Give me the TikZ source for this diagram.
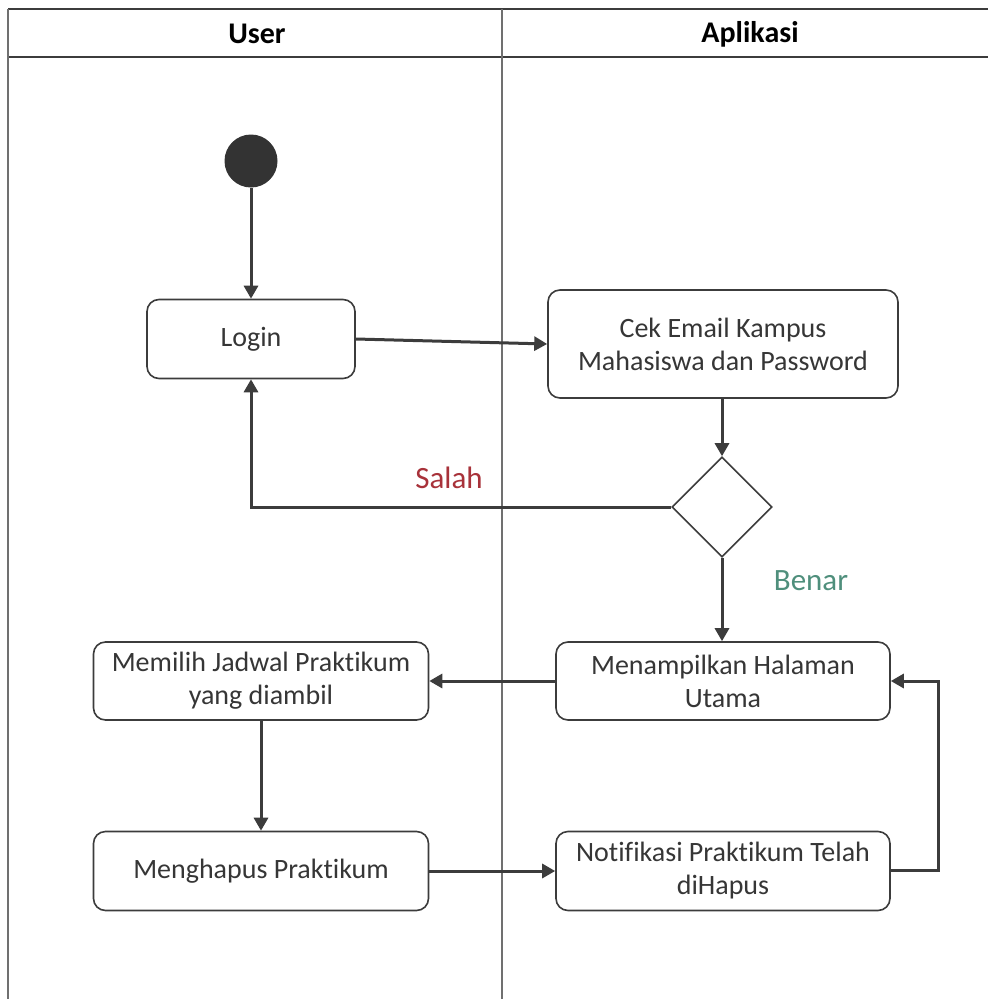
\documentclass[tikz,border=0pt]{standalone}
\usepackage{fontspec}
\setmainfont{Carlito}[Ligatures={NoCommon}]
\usetikzlibrary{shapes.geometric,arrows.meta}
\definecolor{ink}{HTML}{3C3C3C}
\definecolor{lane}{HTML}{707070}
\definecolor{salahred}{HTML}{A8323A}
\definecolor{benargreen}{HTML}{4F8F7C}
\tikzset{
  activity/.style={draw=ink, line width=1.6pt, rounded corners=12pt, fill=white,
    align=center, inner sep=0pt, font=\fontsize{28}{33}\selectfont, text=ink!90!black},
  flow/.style={draw=ink, line width=3pt, -{Triangle[length=13pt,width=14pt]}},
  laneline/.style={draw=lane, line width=2pt},
  headline/.style={draw=ink, line width=2pt},
  lanetitle/.style={font=\bfseries\fontsize{30}{34}\selectfont, text=black},
  guard/.style={font=\fontsize{31}{35}\selectfont}
}
\begin{document}
\begin{tikzpicture}[x=1pt,y=-1pt]
\useasboundingbox (0,0) rectangle (988,999);
\fill[white] (0,0) rectangle (988,999);

% swimlanes
\draw[headline] (8,9) -- (988,9);
\draw[headline] (8,57) -- (988,57);
\draw[laneline] (8,9) -- (8,999);
\draw[laneline] (502,9) -- (502,999);
\node[lanetitle] (laneuser) at (257,34) {User};
\node[lanetitle] (laneapp) at (750,34) {Aplikasi};

% nodes
\node[circle, fill=ink!85!black, minimum size=53pt, inner sep=0pt] (start) at (251,161) {};
\node[activity, minimum width=208pt, minimum height=79pt] (login) at (251,339) {Login};
\node[activity, minimum width=350pt, minimum height=108pt] (cek) at (723,344)
  {Cek Email Kampus\\Mahasiswa dan Password};
\node[diamond, draw=ink, line width=1.6pt, fill=white, minimum width=100pt,
  minimum height=100pt, inner sep=0pt, aspect=1] (dec) at (722,507) {};
\node[activity, minimum width=334pt, minimum height=78pt] (tampil) at (723,681)
  {Menampilkan Halaman\\Utama};
\node[activity, minimum width=335pt, minimum height=78pt] (pilih) at (261,681)
  {Memilih Jadwal Praktikum\\yang diambil};
\node[activity, minimum width=335pt, minimum height=79pt] (hapus) at (261,871)
  {Menghapus Praktikum};
\node[activity, minimum width=334pt, minimum height=79pt] (notif) at (723,871)
  {Notifikasi Praktikum Telah\\diHapus};

% guards
\node[guard, text=salahred] (salah) at (449,478) {Salah};
\node[guard, text=benargreen] (benar) at (811,581) {Benar};

% connectors
\draw[flow] (start) -- (login);
\draw[flow] (login.east) -- (cek.west);
\draw[flow] (cek.south -| dec.north) -- (dec.north);
\draw[flow] (dec.west) -| (login.south);
\draw[flow] (dec.south) -- (tampil.north -| dec.south);
\draw[flow] (tampil.west) -- (pilih.east);
\draw[flow] (pilih.south) -- (hapus.north);
\draw[flow] (hapus.east) -- (notif.west);
\coordinate (loopcorner) at (938,870);
\draw[flow] (notif.east |- loopcorner) -- (loopcorner) |- (tampil.east);
\end{tikzpicture}
\end{document}
